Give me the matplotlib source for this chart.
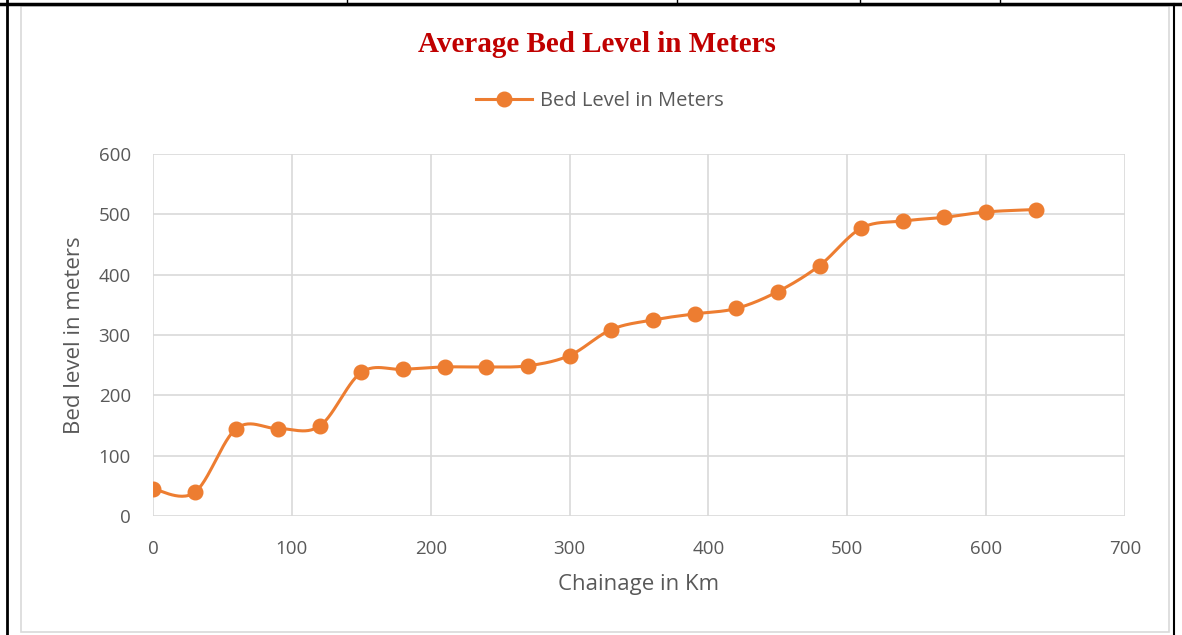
import numpy as np
import matplotlib.pyplot as plt
from matplotlib.lines import Line2D

# Chainage (km) and average bed level (m)
chainage = [0, 30, 60, 90, 120, 150, 180, 210, 240, 270, 300,
            330, 360, 390, 420, 450, 480, 510, 540, 570, 600, 636]
bed_level = [45, 39, 145, 145, 149, 238, 243, 247, 247, 249, 266,
             309, 325, 335, 344, 372, 415, 477, 489, 495, 504, 508]

orange = '#ED7D31'
grey_text = '#595959'
grid_col = '#D9D9D9'


# Excel-style smoothed line (Catmull-Rom through the points)
def smooth_xy(x, y, n=30):
    x = np.asarray(x, float)
    y = np.asarray(y, float)
    px = np.concatenate([[x[0]], x, [x[-1]]])
    py = np.concatenate([[y[0]], y, [y[-1]]])
    out_x, out_y = [], []
    t = np.linspace(0, 1, n)
    for i in range(1, len(px) - 2):
        p0x, p1x, p2x, p3x = px[i - 1], px[i], px[i + 1], px[i + 2]
        p0y, p1y, p2y, p3y = py[i - 1], py[i], py[i + 1], py[i + 2]
        c1x, c1y = p1x + (p2x - p0x) / 6, p1y + (p2y - p0y) / 6
        c2x, c2y = p2x - (p3x - p1x) / 6, p2y - (p3y - p1y) / 6
        bx = (1 - t) ** 3 * p1x + 3 * (1 - t) ** 2 * t * c1x + 3 * (1 - t) * t ** 2 * c2x + t ** 3 * p2x
        by = (1 - t) ** 3 * p1y + 3 * (1 - t) ** 2 * t * c1y + 3 * (1 - t) * t ** 2 * c2y + t ** 3 * p2y
        out_x.extend(bx)
        out_y.extend(by)
    return out_x, out_y


fig = plt.figure(figsize=(11.82, 6.35), dpi=100)

# surrounding document frame bits
fig.add_artist(Line2D([0, 1], [631 / 635, 631 / 635], color='black', lw=2.5))
fig.add_artist(Line2D([7 / 1182, 7 / 1182], [0, 1], color='black', lw=2))
fig.add_artist(Line2D([1174 / 1182, 1174 / 1182], [0, 631 / 635], color='black', lw=1.5))
for xv in [347, 677, 860, 1000]:
    fig.add_artist(Line2D([xv / 1182, xv / 1182], [631 / 635, 1], color='black', lw=1))
# chart area border
fig.add_artist(plt.Rectangle((21 / 1182, 3 / 635), 1148 / 1182, 626 / 635,
                             fill=False, edgecolor='#D9D9D9', lw=1.2))

ax = fig.add_axes([153 / 1182, 119 / 635, 972 / 1182, 362 / 635])

sx, sy = smooth_xy(chainage, bed_level)
ax.plot(sx, sy, color=orange, lw=2.2, zorder=3)
ax.plot(chainage, bed_level, 'o', color=orange, markersize=10.5, zorder=4)

ax.set_xlim(0, 700)
ax.set_ylim(0, 600)
ax.set_xticks(range(0, 701, 100))
ax.set_yticks(range(0, 601, 100))
ax.grid(True, color=grid_col, lw=1.2)
ax.set_axisbelow(True)
for s in ax.spines.values():
    s.set_visible(False)
ax.tick_params(length=0, labelsize=13.5, labelcolor=grey_text)
ax.tick_params(axis='x', pad=17)
ax.tick_params(axis='y', pad=16)
for lab in ax.get_xticklabels() + ax.get_yticklabels():
    lab.set_family('Open Sans')

ax.set_xlabel('Chainage in Km', fontsize=16, color=grey_text, family='Open Sans', labelpad=12)
ax.set_ylabel('Bed level in meters', fontsize=16, color=grey_text, family='Open Sans', labelpad=10)

fig.text(597 / 1182, 1 - 44 / 635, 'Average Bed Level in Meters', ha='center', va='center',
         fontsize=21, fontweight='bold', color='#C00000', family='Liberation Serif')

handle = Line2D([], [], color=orange, lw=2.2, marker='o', markersize=10.5)
fig.legend([handle], ['Bed Level in Meters'], loc='center', bbox_to_anchor=(600 / 1182, 1 - 101 / 635),
           frameon=False, handlelength=2.8, prop={'family': 'Open Sans', 'size': 14.5},
           labelcolor=grey_text, handletextpad=0.4)

fig.savefig('out.png', dpi=100)
